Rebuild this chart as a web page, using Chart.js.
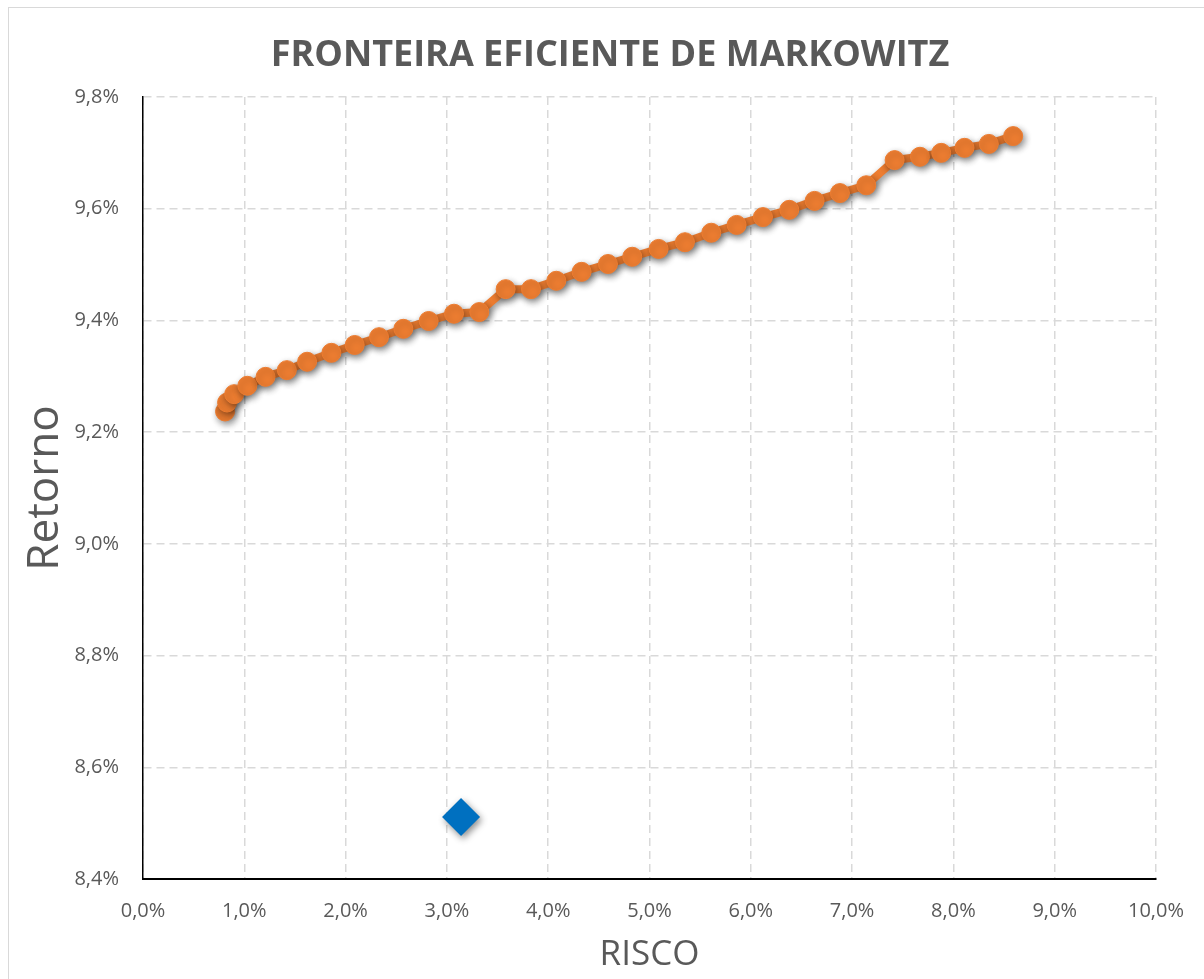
<!DOCTYPE html>
<html>
<head>
<meta charset="utf-8">
<script src="https://cdn.jsdelivr.net/npm/chart.js@4.4.0/dist/chart.umd.min.js"></script>
<style>
  html, body { margin: 0; padding: 0; background: #fff; }
  #wrap { width: 1204px; height: 979px; }
</style>
</head>
<body>
<div id="wrap"><canvas id="myChart" width="1204" height="979"></canvas></div>
<script>
// Fronteira eficiente (risco %, retorno %)
const risco = [0.81, 0.83, 0.90, 1.03, 1.21, 1.42, 1.62, 1.86, 2.09, 2.33, 2.57, 2.82, 3.07, 3.32,
               3.58, 3.83, 4.08, 4.33, 4.59, 4.83, 5.09, 5.35, 5.61, 5.86, 6.12, 6.38, 6.63, 6.88,
               7.14, 7.42, 7.67, 7.88, 8.11, 8.35, 8.59];
const retorno = [9.237, 9.253, 9.268, 9.283, 9.299, 9.311, 9.326, 9.342, 9.356, 9.370, 9.385, 9.399, 9.412, 9.415,
                 9.456, 9.456, 9.471, 9.487, 9.501, 9.514, 9.528, 9.540, 9.557, 9.571, 9.585, 9.598, 9.614, 9.628,
                 9.642, 9.687, 9.693, 9.700, 9.709, 9.716, 9.730];
// carteira atual
const carteiraRisco = [3.14];
const carteiraRetorno = [8.511];

const titulo = 'FRONTEIRA EFICIENTE DE MARKOWITZ';

const fmt = v => v.toFixed(1).replace('.', ',') + '%';

const shadow = {
    id: 'shadow',
    beforeDatasetsDraw(chart) {
        const c = chart.ctx;
        c.save();
        c.shadowColor = 'rgba(0,0,0,0.45)';
        c.shadowBlur = 7;
        c.shadowOffsetX = 2;
        c.shadowOffsetY = 3;
    },
    afterDatasetsDraw(chart) {
        chart.ctx.restore();
    }
};

// moldura e titulo centrado no grafico inteiro
const frame = {
    id: 'frame',
    beforeDraw(chart) {
        const c = chart.ctx;
        c.save();
        c.strokeStyle = '#D9D9D9';
        c.lineWidth = 1;
        c.strokeRect(8.5, 7.5, 1400, 1400);
        c.fillStyle = '#595959';
        c.font = 'bold 36px "Open Sans"';
        c.textAlign = 'center';
        c.textBaseline = 'middle';
        c.fillText(titulo, 610, 56);
        c.restore();
    }
};

const ctx = document.getElementById('myChart').getContext('2d');

new Chart(ctx, {
    type: 'scatter',
    data: {
        datasets: [{
            label: 'Fronteira',
            data: risco.map((x, i) => ({ x: x, y: retorno[i] })),
            showLine: true,
            borderColor: '#ED7D31',
            backgroundColor: '#ED7D31',
            borderWidth: 8,
            pointRadius: 9.5,
            pointBorderWidth: 1,
            pointBorderColor: '#ED7D31',
            tension: 0
        }, {
            label: 'Carteira',
            data: carteiraRisco.map((x, i) => ({ x: x, y: carteiraRetorno[i] })),
            pointStyle: 'rectRot',
            pointRadius: 19,
            borderWidth: 0,
            backgroundColor: '#0070C0',
            borderColor: '#0070C0'
        }]
    },
    options: {
        responsive: false,
        animation: false,
        layout: { padding: { left: 0, right: 43, top: 97, bottom: 0 } },
        scales: {
            x: {
                type: 'linear',
                min: 0,
                max: 10,
                afterFit: s => { s.height = 100; },
                ticks: { stepSize: 1, callback: fmt, padding: 20, color: '#595959', font: { family: 'Open Sans', size: 20 } },
                grid: { color: '#D9D9D9', lineWidth: 1.5, drawTicks: false },
                border: { color: '#000', width: 2, dash: [8, 5] },
                title: { display: true, text: 'RISCO', color: '#595959', padding: { top: 0, bottom: 3 }, font: { family: 'Open Sans', size: 35 } }
            },
            y: {
                min: 8.4,
                max: 9.8,
                afterFit: s => { s.width = 143; },
                ticks: { stepSize: 0.2, callback: fmt, padding: 24, color: '#595959', font: { family: 'Open Sans', size: 20 } },
                grid: { color: '#D9D9D9', lineWidth: 1.5, drawTicks: false },
                border: { color: '#000', width: 1.5, dash: [8, 5] },
                title: { display: true, text: 'Retorno', color: '#595959', padding: { top: 19, bottom: 0 }, font: { family: 'Open Sans', size: 44 } }
            }
        },
        plugins: {
            legend: { display: false },
            tooltip: { enabled: false },
            title: { display: false }
        }
    },
    plugins: [frame, shadow]
});
</script>
</body>
</html>
